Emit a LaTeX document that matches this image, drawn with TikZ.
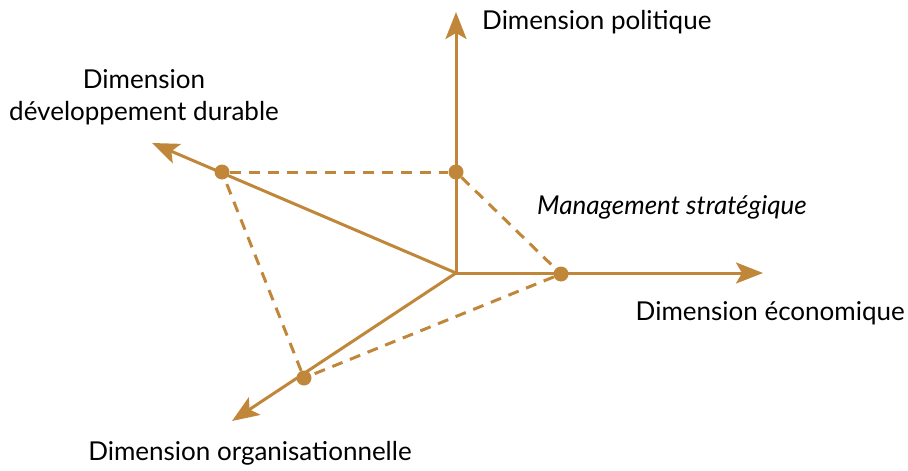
\documentclass[tikz,border=0pt]{standalone}
\usepackage{fontspec}
\setmainfont{Lato}
\usetikzlibrary{arrows.meta}
\definecolor{ochre}{HTML}{C0873A}
\begin{document}
\begin{tikzpicture}[x=1pt,y=-1pt,
  axis/.style={draw=ochre,line width=3pt,-{Stealth[length=27pt,width=21pt,inset=6pt]}},
  dashline/.style={draw=ochre,line width=3pt,dash pattern=on 11pt off 8pt},
  dot/.style={circle,fill=ochre,inner sep=0pt,minimum size=15pt},
  lab/.style={font=\fontsize{26}{32}\selectfont,text=black,inner sep=0pt}]
\useasboundingbox (0,0) rectangle (908,471);
\coordinate (O) at (456,273);
\coordinate (tp) at (456,12);
\coordinate (te) at (763,273);
\coordinate (td) at (152,143);
\coordinate (to) at (232,421);
\node[dot] (P) at (456,172) {};
\node[dot] (E) at (561,274) {};
\node[dot] (D) at (222,172) {};
\node[dot] (G) at (304,378) {};
\draw[dashline] (D) -- (P);
\draw[dashline] (P) -- (E);
\draw[dashline] (E) -- (G);
\draw[dashline] (G) -- (D);
\draw[axis] (O) -- (tp);
\draw[axis] (O) -- (te);
\draw[axis] (O) -- (td);
\draw[axis] (O) -- (to);
\node[lab,anchor=west] (lp) at (482,22) {Dimension politique};
\node[lab,align=center] (ld) at (144,97) {Dimension\\développement durable};
\node[lab,anchor=west,font=\fontsize{26}{32}\selectfont\itshape] (lm) at (537,207) {Management stratégique};
\node[lab,anchor=east] (le) at (905,313) {Dimension économique};
\node[lab] (lo) at (250,453) {Dimension organisationnelle};
\end{tikzpicture}
\end{document}
